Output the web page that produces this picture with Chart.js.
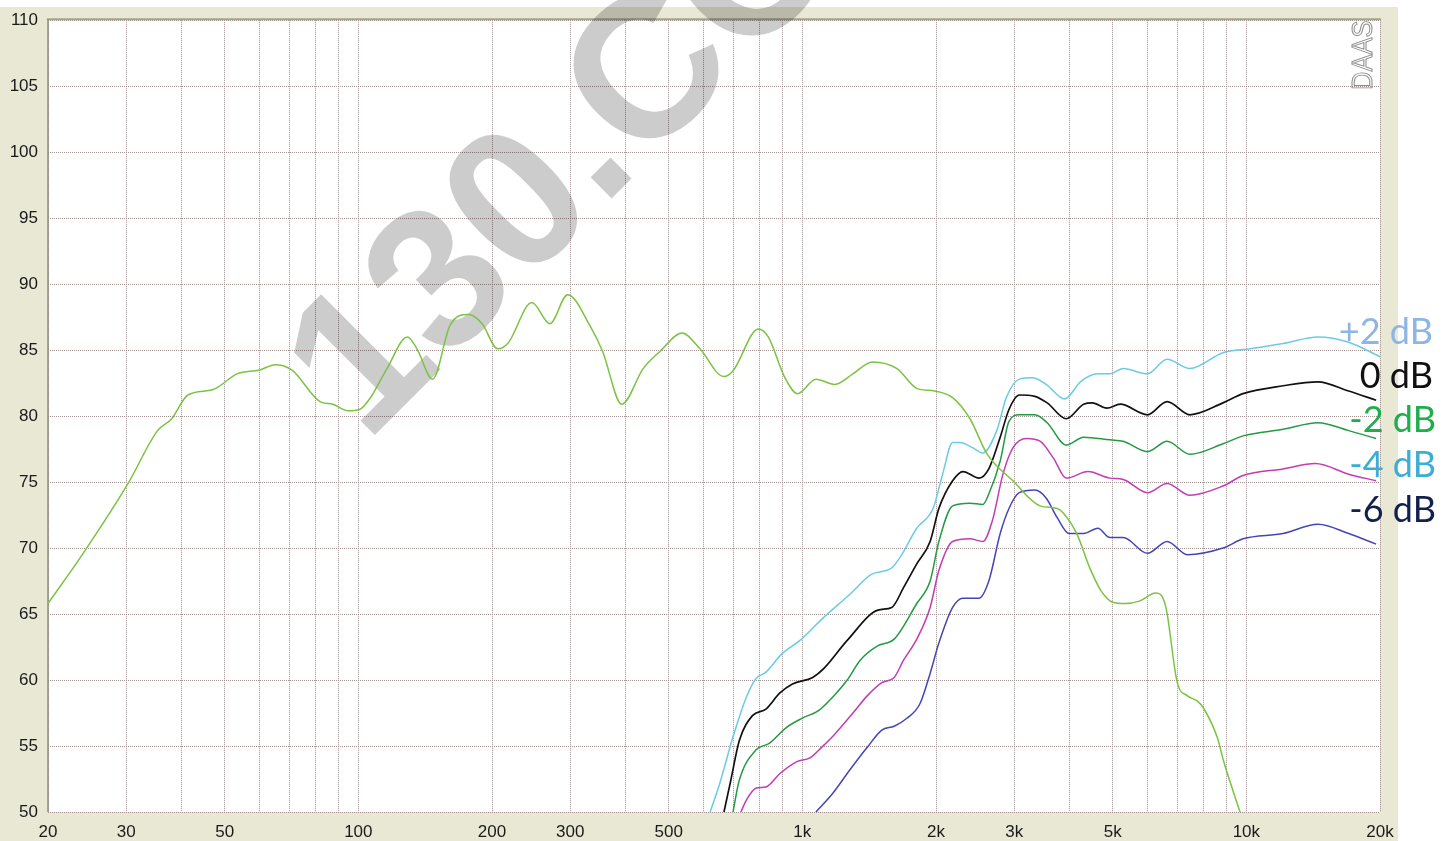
<!DOCTYPE html>
<html>
<head>
<meta charset="utf-8">
<title>Frequency response</title>
<script src="https://cdn.jsdelivr.net/npm/chart.js@4.4.1/dist/chart.umd.min.js"></script>
<style>
  html, body { margin: 0; padding: 0; background: #fff; }
  #wrap { position: relative; width: 1456px; height: 841px; }
  canvas { display: block; }
</style>
</head>
<body>
<div id="wrap"><canvas id="fr" width="1456" height="841" style="width:1456px;height:841px"></canvas></div>
<script>
// grid lines (Hz) and the labelled ones
const xGrid = [20, 30, 40, 50, 60, 70, 80, 90, 100, 200, 300, 400, 500, 600, 700, 800, 900,
  1000, 2000, 3000, 4000, 5000, 6000, 7000, 8000, 9000, 10000, 20000];
const xTickValues = [20, 30, 50, 100, 200, 300, 500, 1000, 2000, 3000, 5000, 10000, 20000];
const xTickLabels = ['20', '30', '50', '100', '200', '300', '500', '1k', '2k', '3k', '5k', '10k', '20k'];

// woofer response (yellow-green)
const freqBase = [20, 24, 30.3, 35.3, 38, 41.3, 47, 53.3, 60, 65, 70.8, 82, 87.6, 94.8, 100.6, 106, 116, 129, 135.5, 147,
  161, 177, 190, 206, 217, 246, 270, 296, 333, 355, 392, 438, 478, 536, 588, 665, 697, 796, 838, 914,
  975, 1073, 1183, 1300, 1438, 1634, 1810, 1987, 2180, 2385, 2610, 2980, 3430, 3750, 3860, 4150, 4440, 4700, 5000, 5330,
  5765, 6240, 6580, 6990, 7370, 7760, 8000, 8610, 8880, 9700];
const dbBase = [65.8, 69.6, 74.9, 78.9, 79.8, 81.6, 82.0, 83.2, 83.5, 83.9, 83.5, 81.1, 80.9, 80.4, 80.5, 81.3, 83.6, 86.0, 85.1, 82.8,
  86.9, 87.7, 87.0, 85.1, 85.5, 88.6, 87.0, 89.2, 86.8, 84.9, 80.9, 83.6, 84.9, 86.3, 85.1, 83.0, 83.4, 86.6, 86.0, 82.9,
  81.7, 82.8, 82.4, 83.2, 84.1, 83.6, 82.1, 81.9, 81.4, 79.8, 77.1, 75.1, 73.2, 73.0, 72.7, 71.1, 68.5, 66.8, 65.9, 65.8,
  66.0, 66.6, 65.6, 59.8, 58.8, 58.4, 57.9, 55.6, 53.9, 49.9];

// tweeter at +2 dB
const freqP2 = [620, 652, 698, 748, 786, 828, 900, 988, 1105, 1280, 1430, 1590, 1660, 1810, 1970, 2070, 2180, 2265, 2420, 2550,
  2740, 2880, 3080, 3300, 3540, 3900, 4230, 4630, 4930, 5280, 5990, 6630, 7460, 8860, 10200, 12100, 14500, 17000, 20000];
const dbP2 = [50, 52.2, 55.7, 58.7, 60.1, 60.6, 62.0, 63.0, 64.6, 66.5, 68.0, 68.5, 69.3, 71.5, 73.0, 75.6, 78.0, 78.0, 77.6, 77.2,
  78.9, 81.4, 82.8, 82.9, 82.4, 81.3, 82.6, 83.2, 83.2, 83.6, 83.2, 84.3, 83.6, 84.8, 85.1, 85.5, 86.0, 85.6, 84.5];

// 0 dB
const freq0 = [666, 690, 721, 772, 828, 889, 950, 1055, 1120, 1262, 1480, 1590, 1690, 1810, 1940, 2030, 2180, 2300, 2500, 2630,
  2790, 2920, 3080, 3340, 3560, 3930, 4300, 4500, 4850, 5200, 5990, 6630, 7460, 8860, 9830, 12100, 14500, 17000, 19600];
const db0 = [50, 52.4, 55.4, 57.3, 57.8, 59.0, 59.7, 60.2, 60.9, 63.0, 65.3, 65.5, 67.0, 68.8, 70.5, 73.0, 75.1, 75.8, 75.3, 76.0,
  78.4, 80.5, 81.6, 81.5, 81.0, 79.8, 80.9, 81.0, 80.6, 80.9, 80.1, 81.1, 80.1, 81.0, 81.7, 82.3, 82.6, 81.9, 81.2];

// -2 dB
const freqM2 = [698, 721, 786, 842, 920, 998, 1090, 1170, 1262, 1350, 1480, 1610, 1810, 1940, 2030, 2180, 2385, 2550, 2630, 2790,
  2920, 3080, 3340, 3560, 3930, 4300, 4930, 5280, 5990, 6630, 7460, 8860, 9830, 12100, 14500, 17000, 19600];
const dbM2 = [50, 52.4, 54.7, 55.2, 56.4, 57.1, 57.7, 58.7, 60.0, 61.5, 62.6, 63.1, 65.8, 67.5, 70.5, 73.2, 73.4, 73.3, 74.1, 76.6,
  79.6, 80.1, 80.1, 79.5, 77.8, 78.4, 78.2, 78.1, 77.3, 78.1, 77.1, 77.9, 78.5, 79.0, 79.5, 78.9, 78.3];

// -4 dB
const freqM4 = [727, 748, 786, 828, 889, 970, 1040, 1105, 1183, 1300, 1400, 1510, 1610, 1690, 1810, 1940, 2030, 2180, 2385, 2550,
  2680, 2830, 2980, 3200, 3430, 3680, 3930, 4400, 4930, 5280, 5990, 6630, 7460, 8860, 9830, 12100, 14300, 17000, 19600];
const dbM4 = [50, 50.9, 51.8, 51.9, 52.9, 53.8, 54.1, 54.9, 55.9, 57.5, 58.8, 59.8, 60.2, 61.5, 63.1, 65.5, 68.3, 70.5, 70.7, 70.5,
  72.1, 75.6, 77.6, 78.3, 78.1, 76.8, 75.3, 75.8, 75.3, 75.2, 74.2, 74.9, 74.0, 74.7, 75.5, 76.0, 76.4, 75.6, 75.1];

// -6 dB
const freqM6 = [1073, 1170, 1280, 1400, 1510, 1610, 1720, 1840, 1940, 2030, 2180, 2300, 2500, 2630, 2790, 2920, 3080, 3340, 3540,
  3750, 3990, 4300, 4630, 4930, 5280, 5990, 6630, 7360, 8860, 9830, 12100, 14500, 17000, 19600];
const dbM6 = [50, 51.4, 53.2, 54.9, 56.2, 56.5, 57.1, 58.2, 60.5, 62.8, 65.5, 66.2, 66.2, 67.5, 71.1, 73.0, 74.2, 74.4, 73.8,
  72.3, 71.1, 71.1, 71.5, 70.8, 70.8, 69.6, 70.5, 69.5, 70.0, 70.7, 71.1, 71.8, 71.1, 70.3];

const seriesLabels = ['+2 dB', '0 dB', '-2 dB', '-4 dB', '-6 dB'];

function pts(f, d) {
  return f.map((v, i) => ({ x: v, y: d[i] }));
}

function line(label, f, d, color, width) {
  return {
    label: label,
    data: pts(f, d),
    borderColor: color,
    borderWidth: width,
    pointRadius: 0,
    fill: false,
    cubicInterpolationMode: 'monotone'
  };
}

// beige frame + white plot + watermark, drawn under the curves
const framePlugin = {
  id: 'frame',
  beforeDraw(chart) {
    const { ctx, chartArea: a } = chart;
    ctx.save();
    ctx.fillStyle = '#fff';
    ctx.fillRect(0, 0, chart.width, chart.height);
    ctx.fillStyle = '#e8e8d5';
    ctx.fillRect(0, 7, 1398, chart.height - 7);
    ctx.fillStyle = '#fff';
    ctx.fillRect(a.left, a.top, a.right - a.left, a.bottom - a.top);
    ctx.restore();
  },
  beforeDatasetsDraw(chart) {
    const { ctx, chartArea: a } = chart;
    ctx.save();
    // plot border
    ctx.strokeStyle = '#a4a48c';
    ctx.lineWidth = 2;
    ctx.beginPath();
    ctx.moveTo(a.left - 1, a.top - 1);
    ctx.lineTo(a.right + 1, a.top - 1);
    ctx.stroke();
    ctx.strokeStyle = '#8c8c80';
    ctx.lineWidth = 1.5;
    ctx.beginPath();
    ctx.moveTo(a.left, a.top - 1);
    ctx.lineTo(a.left, a.bottom);
    ctx.stroke();
    // watermark
    ctx.translate(366, 444);
    ctx.rotate(-45 * Math.PI / 180);
    ctx.font = 'bold 200px "Liberation Sans", Arial, sans-serif';
    ctx.fillStyle = 'rgba(0,0,0,0.2)';
    ctx.textBaseline = 'alphabetic';
    ctx.fillText('130.COM', 0, 0);
    ctx.restore();
    // DAAS tag
    ctx.save();
    ctx.translate(1372, 90);
    ctx.rotate(-Math.PI / 2);
    ctx.scale(0.85, 1);
    ctx.font = '30px "Liberation Sans", Arial, sans-serif';
    ctx.strokeStyle = '#8a8a8a';
    ctx.lineWidth = 1;
    ctx.textBaseline = 'alphabetic';
    ctx.strokeText('DAAS', 0, 0);
    ctx.restore();
  },
  afterDraw(chart) {
    const { ctx } = chart;
    const colors = ['#8fb6e2', '#111111', '#1eae4c', '#3daed3', '#12204e'];
    const ys = [332, 376, 420, 465, 510];
    const xs = [1433, 1433, 1436, 1436, 1436];
    ctx.save();
    ctx.font = '36px Lato, "Noto Sans", sans-serif';
    ctx.textAlign = 'right';
    ctx.textBaseline = 'middle';
    seriesLabels.forEach((t, i) => {
      ctx.fillStyle = colors[i];
      ctx.fillText(t, xs[i], ys[i]);
    });
    ctx.restore();
  }
};

new Chart(document.getElementById('fr'), {
  type: 'line',
  data: {
    datasets: [
      line('base', freqBase, dbBase, '#7cc243', 1.5),
      line(seriesLabels[0], freqP2, dbP2, '#6ccbe4', 1.5),
      line(seriesLabels[1], freq0, db0, '#111111', 1.7),
      line(seriesLabels[2], freqM2, dbM2, '#259a45', 1.5),
      line(seriesLabels[3], freqM4, dbM4, '#c23cb2', 1.5),
      line(seriesLabels[4], freqM6, dbM6, '#4545b5', 1.5)
    ]
  },
  options: {
    responsive: false,
    devicePixelRatio: 1,
    animation: false,
    layout: { padding: { left: 0, top: 18, right: 76, bottom: 0 } },
    plugins: { legend: { display: false }, tooltip: { enabled: false } },
    scales: {
      x: {
        type: 'logarithmic',
        min: 20,
        max: 20000,
        afterBuildTicks: (s) => { s.ticks = xGrid.map(v => ({ value: v })); },
        afterFit: (s) => { s.height = 29; s.paddingLeft = 0; s.paddingRight = 0; },
        ticks: {
          autoSkip: false,
          maxRotation: 0,
          padding: 10,
          color: '#1a1a1a',
          font: { family: '"Liberation Sans", Arial, sans-serif', size: 17 },
          callback: (v) => {
            const i = xTickValues.indexOf(v);
            return i >= 0 ? xTickLabels[i] : '';
          }
        },
        grid: { color: '#a09090', lineWidth: 1, drawTicks: false },
        border: { display: false, dash: [1, 1] }
      },
      y: {
        min: 50,
        max: 110,
        afterFit: (s) => { s.width = 48; },
        ticks: {
          stepSize: 5,
          padding: 10,
          color: '#1a1a1a',
          font: { family: '"Liberation Sans", Arial, sans-serif', size: 17 }
        },
        grid: { color: '#a09090', lineWidth: 1, drawTicks: false },
        border: { display: false, dash: [1, 1] }
      }
    }
  },
  plugins: [framePlugin]
});
</script>
</body>
</html>
